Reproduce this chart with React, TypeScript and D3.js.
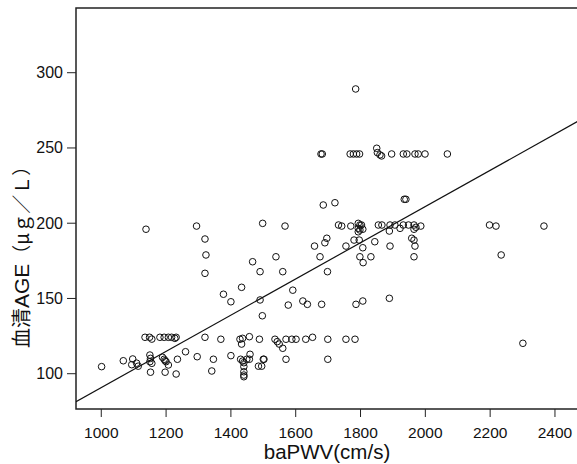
import React from "react";
import * as d3 from "d3";

// baPWV (cm/s) values of each subject
const baPWV: number[] = [
  1001, 1068, 1097, 1094, 1109, 1114, 1135, 1149, 1156, 1150, 1152, 1150, 1156, 1152,
  1181, 1194, 1207, 1217, 1227, 1231, 1189, 1194, 1197, 1207, 1200, 1197, 1231, 1235,
  1260, 1296, 1320, 1346, 1341, 1369, 1400, 1428, 1436, 1457, 1433, 1430, 1436, 1440,
  1449, 1459, 1457, 1440, 1440, 1440, 1440, 1485, 1488, 1500, 1536, 1543, 1549, 1560,
  1570, 1588, 1601, 1631, 1652, 1699, 1755, 1783, 1502, 1495, 1570, 1699, 2301,
  1138, 1294, 1320, 1323, 1320, 1498, 1567, 1467, 1539, 1490, 1560, 1433, 1377, 1400,
  1490, 1497, 1591, 1577, 1685, 1721, 1935, 1940, 1732, 1742, 1770, 1793, 1798, 1803,
  1793, 1798, 1807, 1793, 1855, 1866, 1891, 1906, 1922, 1932, 1948, 1965, 1971, 1965,
  1986, 1889, 1780, 1796, 1844, 1807, 1755, 1658, 1690, 1696, 1675, 1798, 1808, 1832,
  1891, 1958, 1965, 1968, 1965, 1698, 1622, 1636, 1680, 1786, 1807, 1889, 2198, 2218,
  2366, 2234,
  1785, 1678, 1682, 1768, 1778, 1788, 1797, 1850, 1852, 1860, 1865, 1896, 1932, 1943,
  1968, 1978, 1999, 2068,
];

// serum AGE (µg/L) values, same order
const serumAGE: number[] = [
  104.7, 108.6, 109.8, 106, 107, 105, 124.2, 124.2, 123, 112.4, 110.2, 108, 106.9, 101,
  124.2, 124.2, 124.2, 124.2, 123.5, 124.2, 110.9, 109.6, 108.6, 105.8, 108, 101, 99.8, 109.6,
  114.6, 111.3, 124.2, 109.6, 101.8, 122.9, 112, 122.9, 123.5, 124.6, 119.7, 109.6, 108.4, 107.3,
  109.6, 112.9, 109.6, 104.7, 101.3, 99.1, 98, 105, 122.9, 109.6, 122.9, 121.3, 119.7, 116.9,
  122.9, 122.9, 122.9, 122.9, 124.2, 122.9, 122.9, 122.9, 109.6, 105, 109.6, 109.6, 120.2,
  196, 198.1, 189.5, 178.9, 166.7, 199.9, 198.1, 174.4, 177.7, 167.8, 167.8, 157.4, 152.8, 147.8,
  149, 138.5, 155.5, 145.6, 212.1, 213.6, 215.9, 215.9, 198.8, 198.1, 198.1, 199.9, 198.8, 198.8,
  196.6, 195.5, 196, 194.3, 198.8, 198.8, 198.8, 198.8, 196.6, 198.8, 198.8, 198.8, 197.3, 196,
  198.1, 194.8, 188.8, 188.8, 187.7, 183.7, 184.8, 184.8, 187, 190, 177.7, 177.7, 173.8, 177.7,
  184.8, 190, 188.8, 184.8, 177.7, 167.8, 148.3, 146.1, 146.1, 146.1, 148.3, 150.1, 198.8, 198.1,
  198.1, 178.9,
  289.2, 246, 246, 246, 246, 246, 246, 249.8, 246.9, 245.4, 244.7, 246, 246, 246,
  246, 246, 246, 246,
];

const xTicks: number[] = [1000, 1200, 1400, 1600, 1800, 2000, 2200, 2400];
const yTicks: number[] = [100, 150, 200, 250, 300];

// fitted regression line: AGE = intercept + slope * baPWV
const fitIntercept = -29.5;
const fitSlope = 0.1203;

const W = 577;
const H = 464;
const left = 76;
const top = 8;
const bottom = 409;
const right = 577;

export default function App() {
  const x = d3.scaleLinear().domain([922, 2468]).range([left, right]);
  const y = d3.scaleLinear().domain([76.55, 343.0]).range([bottom, top]);

  const lineX = [922, 2600];
  const linePath = d3
    .line<number>()
    .x((d) => x(d))
    .y((d) => y(fitIntercept + fitSlope * d))(lineX) as string;

  const font = '"Liberation Sans", Arial, Helvetica, sans-serif';
  const cjk = '"Noto Sans CJK SC", "Liberation Sans", sans-serif';

  return (
    <svg
      width={W}
      height={H}
      style={{ position: "absolute", left: 0, top: 0, background: "#fff" }}
      fontFamily={font}
    >
      <defs>
        <clipPath id="plotclip">
          <rect x={left} y={top} width={700} height={bottom - top} />
        </clipPath>
      </defs>
      <rect x={0} y={0} width={W} height={H} fill="#fff" />
      {/* frame */}
      <rect
        x={left}
        y={top}
        width={700}
        height={bottom - top}
        fill="none"
        stroke="#222"
        strokeWidth={1.5}
      />
      <g clipPath="url(#plotclip)">
        <path d={linePath} fill="none" stroke="#111" strokeWidth={1.2} />
        {baPWV.map((v, i) => (
          <circle
            key={i}
            cx={x(v)}
            cy={y(serumAGE[i])}
            r={3.3}
            fill="none"
            stroke="#111"
            strokeWidth={1}
          />
        ))}
      </g>
      {/* x axis ticks */}
      {xTicks.map((t) => (
        <g key={t}>
          <line x1={x(t)} x2={x(t)} y1={bottom} y2={bottom + 8} stroke="#222" strokeWidth={1} />
          <text x={x(t)} y={438} textAnchor="middle" fontSize={15.5} fill="#111">
            {t}
          </text>
        </g>
      ))}
      {/* y axis ticks */}
      {yTicks.map((t) => (
        <g key={t}>
          <line x1={left - 9} x2={left} y1={y(t)} y2={y(t)} stroke="#222" strokeWidth={1} />
          <text x={63} y={y(t) + 5.5} textAnchor="end" fontSize={16} fill="#111">
            {t}
          </text>
        </g>
      ))}
      <text x={327} y={459} textAnchor="middle" fontSize={20.5} fill="#111">
        baPWV(cm/s)
      </text>
      <text
        transform="translate(29,348) rotate(-90)"
        x={0}
        y={0}
        textAnchor="start"
        fill="#111"
      >
        <tspan fontFamily={cjk} fontSize={20}>血清</tspan>
        <tspan fontFamily={font} fontSize={21}>AGE</tspan>
        <tspan fontFamily={cjk} fontSize={19}>（μｇ／Ｌ）</tspan>
      </text>
    </svg>
  );
}
